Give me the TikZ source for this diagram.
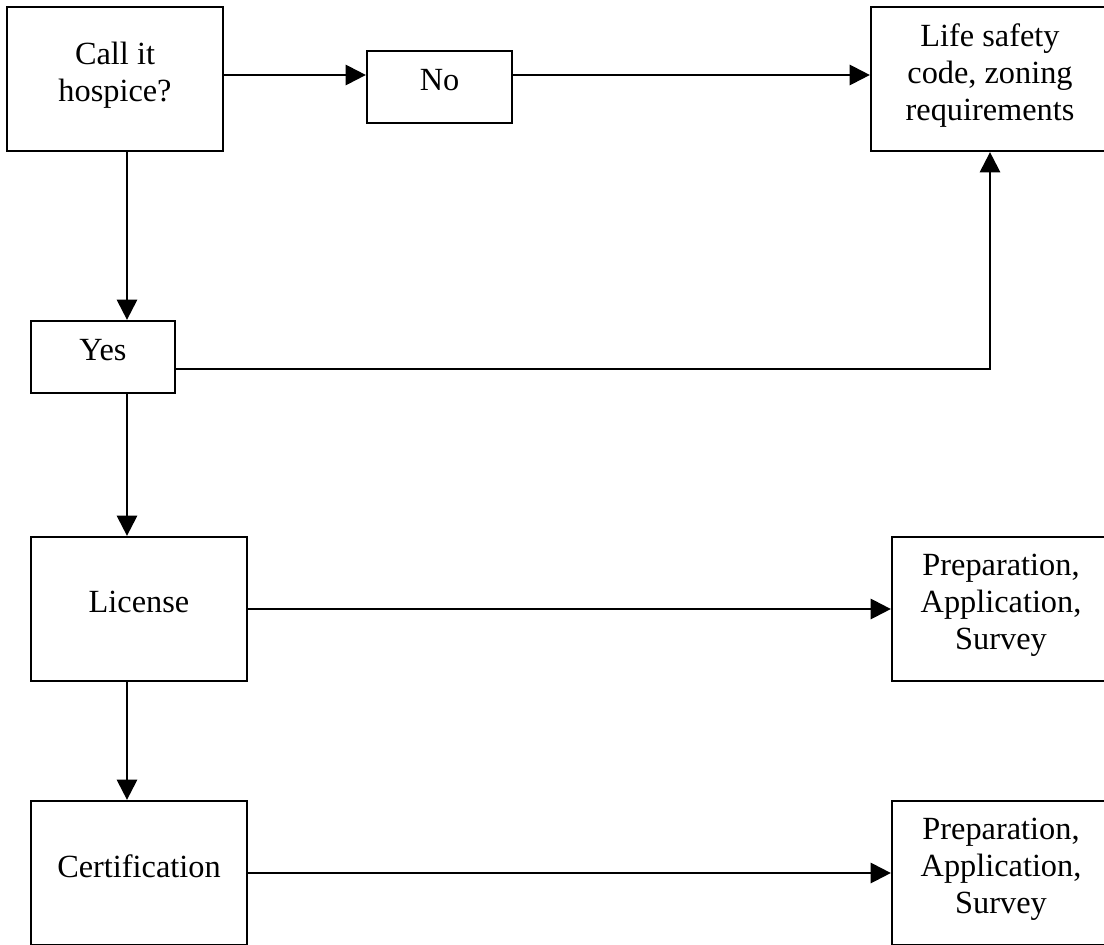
\documentclass[tikz,border=0pt]{standalone}
\usepackage{fontspec}
\setmainfont{Liberation Serif}
\usetikzlibrary{arrows.meta}
\begin{document}
\begin{tikzpicture}[x=0.02cm,y=-0.02cm,
  box/.style={draw, line width=1.3pt, align=center, inner sep=0pt,
    font=\fontsize{18.4}{21}\selectfont,
    execute at end node={\rule[-0.28cm]{0pt}{0pt}}},
  link/.style={draw, line width=1.3pt, -{Triangle[length=11.5pt,width=11.5pt]}}]
\clip (0,0) rectangle (1104,945);
\node[box, minimum width=4.32cm, minimum height=2.88cm] (call) at (115,79) {Call it\\hospice?};
\node[box, minimum width=2.9cm, minimum height=1.44cm] (no) at (439.5,87) {No};
\node[box, minimum width=4.76cm, minimum height=2.88cm] (life) at (990,79) {Life safety\\code, zoning\\requirements};
\node[box, minimum width=2.88cm, minimum height=1.44cm] (yes) at (103,357) {Yes};
\node[box, minimum width=4.32cm, minimum height=2.88cm] (lic) at (139,609) {License};
\node[box, minimum width=4.36cm, minimum height=2.88cm] (prep1) at (1001,609) {Preparation,\\Application,\\Survey};
\node[box, minimum width=4.32cm, minimum height=2.88cm] (cert) at (139,873) {Certification};
\node[box, minimum width=4.36cm, minimum height=2.88cm] (prep2) at (1001,873) {Preparation,\\Application,\\Survey};
\coordinate (spine) at (127,0);
\path[link] ([yshift=0.08cm]call.east) -- ([yshift=0.08cm]call.east -| no.west);
\path[link] ([yshift=0.08cm]call.east -| no.east) -- ([yshift=0.08cm]life.west);
\path[link] (call.south -| spine) -- (yes.north -| spine);
\path[link] ([yshift=-0.24cm]yes.east) -| (life.south);
\path[link] (yes.south -| spine) -- (lic.north -| spine);
\path[link] (lic.east) -- (prep1.west);
\path[link] (lic.south -| spine) -- (cert.north -| spine);
\path[link] (cert.east) -- (prep2.west);
\end{tikzpicture}
\end{document}
